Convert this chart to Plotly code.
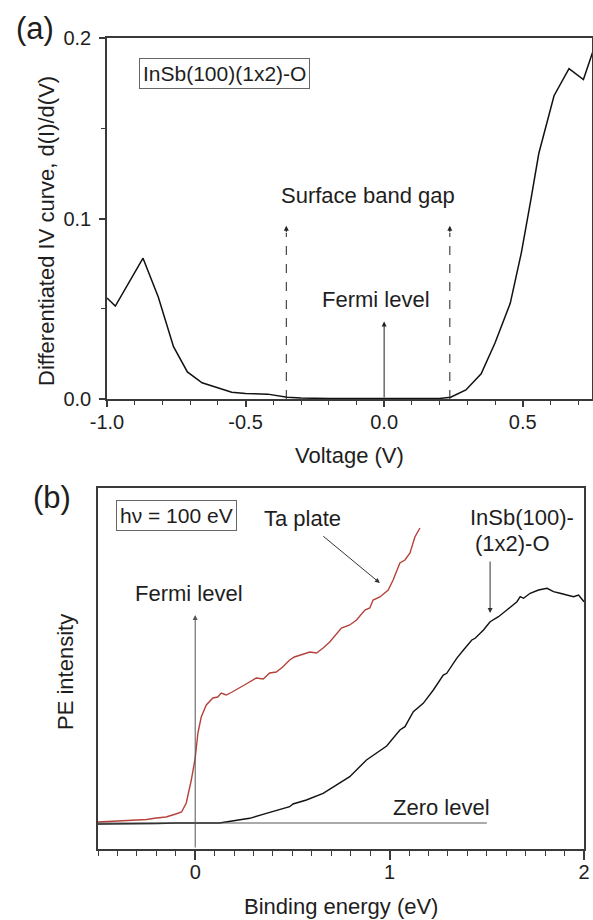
import plotly.graph_objects as go

# ---------------- data ----------------
# panel (a): differentiated IV curve
voltage = [-1.0, -0.97, -0.87, -0.815, -0.76, -0.71, -0.657, -0.60, -0.55, -0.50,
           -0.42, -0.35, -0.30, -0.20, -0.16, -0.10, 0.0, 0.10, 0.20, 0.24, 0.295,
           0.35, 0.40, 0.455, 0.495, 0.529, 0.558, 0.613, 0.667, 0.719, 0.752]
didv = [0.056, 0.0515, 0.078, 0.0565, 0.029, 0.015, 0.009, 0.006, 0.0038, 0.003,
        0.0027, 0.001, 0.0005, 0.0003, 0.0003, 0.0, 0.0, 0.0, 0.0003, 0.001, 0.005,
        0.014, 0.031, 0.053, 0.081, 0.11, 0.136, 0.168, 0.183, 0.177, 0.192]

# panel (b): photoemission spectra
be_ta = [-0.5, -0.45, -0.4, -0.35, -0.3, -0.25, -0.2, -0.15, -0.1, -0.07, -0.046,
         -0.026, -0.02, 0.0, 0.014, 0.031, 0.057, 0.091, 0.116, 0.134, 0.16, 0.19,
         0.228, 0.271, 0.314, 0.35, 0.383, 0.417, 0.45, 0.486, 0.51, 0.538, 0.59,
         0.624, 0.658, 0.692, 0.709, 0.752, 0.795, 0.83, 0.873, 0.898, 0.915, 0.95,
         0.993, 1.018, 1.053, 1.079, 1.105, 1.13, 1.156]
int_ta = [0.01, 0.015, 0.02, 0.02, 0.03, 0.035, 0.05, 0.06, 0.09, 0.11, 0.2,
          0.36, 0.43, 0.65, 0.9, 1.06, 1.18, 1.25, 1.26, 1.30, 1.28, 1.31,
          1.35, 1.40, 1.45, 1.44, 1.50, 1.51, 1.56, 1.63, 1.66, 1.68, 1.71,
          1.70, 1.75, 1.81, 1.85, 1.95, 1.98, 2.03, 2.13, 2.15, 2.23, 2.26,
          2.33, 2.43, 2.60, 2.63, 2.70, 2.86, 2.95]

be_insb = [-0.5, -0.4, -0.3, -0.2, -0.1, 0.0, 0.125, 0.19, 0.28, 0.366, 0.45, 0.486,
           0.503, 0.572, 0.658, 0.744, 0.795, 0.881, 0.933, 0.985, 1.053, 1.079,
           1.122, 1.173, 1.225, 1.276, 1.294, 1.345, 1.38, 1.423, 1.44, 1.483,
           1.517, 1.56, 1.603, 1.655, 1.672, 1.689, 1.723, 1.766, 1.81, 1.843,
           1.877, 1.912, 1.946, 1.972, 2.0]
int_insb = [-0.01, -0.01, -0.005, -0.005, 0.0, 0.0, 0.0, 0.02, 0.047, 0.097, 0.147,
            0.163, 0.19, 0.23, 0.297, 0.397, 0.463, 0.63, 0.697, 0.77, 0.93, 0.963,
            1.113, 1.197, 1.33, 1.48, 1.497, 1.647, 1.73, 1.83, 1.847, 1.93,
            2.013, 2.063, 2.13, 2.213, 2.263, 2.247, 2.297, 2.33, 2.347, 2.313,
            2.297, 2.28, 2.263, 2.28, 2.213]

# tick labels
v_tickvals = [-1.0, -0.5, 0.0, 0.5]
v_ticktext = ["-1.0", "-0.5", "0.0", "0.5"]
d_tickvals = [0.0, 0.1, 0.2]
d_ticktext = ["0.0", "0.1", "0.2"]
be_tickvals = [0, 1, 2]
be_ticktext = ["0", "1", "2"]

# annotated positions
gap_edges = [-0.353, 0.237]
gap_arrow_top = 0.096
fermi_arrow_top_a = 0.043
fermi_arrow_top_b = 2.08
zero_level_end = 1.5

# ---------------- figure ----------------
W, H = 593, 920
FONT = "Liberation Sans, Arial, sans-serif"
AX = "#3a3a3a"
TXT = "#1e1e1e"
RED = "#b5423a"
FS = 22

def px_x(p):
    return p / W

def px_y(p):
    return 1 - p / H

fig = go.Figure()
fig.add_trace(go.Scatter(x=voltage, y=didv, mode="lines",
                         line=dict(color="#111111", width=1.5),
                         xaxis="x", yaxis="y", showlegend=False))
fig.add_trace(go.Scatter(x=be_ta, y=int_ta, mode="lines",
                         line=dict(color=RED, width=1.4),
                         xaxis="x2", yaxis="y2", showlegend=False))
fig.add_trace(go.Scatter(x=be_insb, y=int_insb, mode="lines",
                         line=dict(color="#111111", width=1.4),
                         xaxis="x2", yaxis="y2", showlegend=False))

common = dict(showline=True, linecolor=AX, linewidth=1.5, mirror=True,
              ticks="outside", tickcolor=AX, tickwidth=1.5,
              showgrid=False, zeroline=False, automargin=False,
              tickfont=dict(family=FONT, size=20, color=TXT))

fig.update_layout(
    width=W, height=H,
    margin=dict(l=0, r=0, t=0, b=0),
    paper_bgcolor="white", plot_bgcolor="white",
    font=dict(family=FONT, color=TXT),
    xaxis=dict(common, domain=[px_x(107), px_x(592)], range=[-1.0, 0.75],
               tickmode="array", tickvals=v_tickvals, ticktext=v_ticktext,
               ticklen=6, ticklabelstandoff=-2, anchor="y",
               minor=dict(tickmode="linear", tick0=0, dtick=0.1, ticks="outside",
                          ticklen=4, tickcolor=AX, tickwidth=1.2)),
    yaxis=dict(common, domain=[px_y(399), px_y(38)], range=[0, 0.2],
               tickmode="array", tickvals=d_tickvals, ticktext=d_ticktext,
               ticklen=6, ticklabelstandoff=4, anchor="x",
               minor=dict(tickmode="linear", tick0=0, dtick=0.05, ticks="outside",
                          ticklen=4, tickcolor=AX, tickwidth=1.2)),
    xaxis2=dict(common, domain=[px_x(98), px_x(584)], range=[-0.5, 2.0],
                tickmode="array", tickvals=be_tickvals, ticktext=be_ticktext,
                ticklen=9, ticklabelstandoff=-5, anchor="y2",
                minor=dict(tickmode="linear", tick0=0, dtick=0.1, ticks="outside",
                           ticklen=5, tickcolor=AX, tickwidth=1.2)),
    yaxis2=dict(common, domain=[px_y(849), px_y(488)], range=[-0.26, 3.35],
                ticks="", showticklabels=False, anchor="x2"),
)

shapes = []
for e in gap_edges:
    shapes.append(dict(type="line", xref="x", yref="y", x0=e, x1=e, y0=0,
                       y1=gap_arrow_top - 0.004,
                       line=dict(color="#222222", width=1, dash="dash")))
shapes.append(dict(type="line", xref="x2", yref="y2", x0=-0.5, x1=zero_level_end,
                   y0=0, y1=0, line=dict(color="#555555", width=1)))
fig.update_layout(shapes=shapes)


def label(text, x, y, xref, yref, size=FS, **kw):
    d = dict(text=text, x=x, y=y, xref=xref, yref=yref, showarrow=False,
             xanchor="center", yanchor="middle",
             font=dict(size=size, family=FONT, color=TXT))
    d.update(kw)
    return d


def arrow(x, y, ax, ay, xref, yref, color="#222222", pixel=False):
    d = dict(text="", x=x, y=y, ax=ax, ay=ay, xref=xref, yref=yref,
             showarrow=True, arrowhead=2, arrowsize=1, arrowwidth=1,
             arrowcolor=color)
    if not pixel:
        d.update(axref=xref, ayref=yref)
    return d


ann = []
# panel labels
ann.append(label("(a)", px_x(35), px_y(29), "paper", "paper", size=31))
ann.append(label("(b)", px_x(52), px_y(497), "paper", "paper", size=31))
# axis titles
ann.append(label("Voltage (V)", px_x(349), px_y(455), "paper", "paper"))
ann.append(label("Differentiated IV curve, d(I)/d(V)", px_x(47), px_y(231),
                 "paper", "paper", textangle=-90))
ann.append(label("Binding energy (eV)", px_x(341), px_y(906), "paper", "paper"))
ann.append(label("PE intensity", px_x(65), px_y(672), "paper", "paper", textangle=-90))

# panel (a) texts & arrows
ann.append(label("InSb(100)(1x2)-O", -0.577, 0.1806, "x", "y", size=21,
                 bordercolor="#666666", borderwidth=1, borderpad=3))
ann.append(label("Surface band gap", -0.06, 0.1125, "x", "y"))
ann.append(label("Fermi level", -0.028, 0.0554, "x", "y"))
ann.append(arrow(0.0, fermi_arrow_top_a, 0.0, 0.0, "x", "y"))
for e in gap_edges:
    ann.append(arrow(e, gap_arrow_top, 0, 8, "x", "y", pixel=True))

# panel (b) texts & arrows
ann.append(label("h\u03bd = 100 eV", -0.096, 3.08, "x2", "y2", size=21,
                 bordercolor="#666666", borderwidth=1, borderpad=3))
ann.append(label("Ta plate", 0.553, 3.05, "x2", "y2"))
ann.append(arrow(0.95, 2.40, 0.651, 2.88, "x2", "y2", color="#333333"))
ann.append(label("Fermi level", -0.03, 2.30, "x2", "y2"))
ann.append(arrow(0.0, fermi_arrow_top_b, 0.0, -0.26, "x2", "y2", color="#555555"))
ann.append(label("InSb(100)-", 1.404, 3.06, "x2", "y2", xanchor="left"))
ann.append(label("(1x2)-O", 1.429, 2.80, "x2", "y2", xanchor="left"))
ann.append(arrow(1.517, 2.10, 1.517, 2.63, "x2", "y2", color="#333333"))
ann.append(label("Zero level", 1.265, 0.16, "x2", "y2"))

fig.update_layout(annotations=ann)
fig.write_html("out.html",
               config={"displayModeBar": False},
               post_script="document.body.style.margin='0px';"
                           "document.body.style.overflow='hidden';")
